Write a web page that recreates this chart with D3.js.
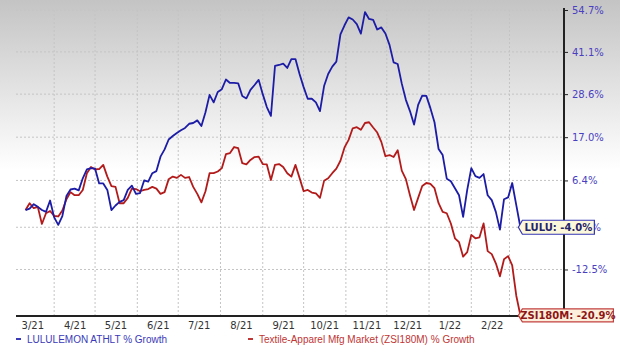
<!DOCTYPE html>
<html>
<head>
<meta charset="utf-8">
<script src="https://cdn.jsdelivr.net/npm/d3@7"></script>
<style>
  html, body { margin: 0; padding: 0; background: #fff; }
  svg { display: block; }
</style>
</head>
<body>
<svg id="chart" width="620" height="354"></svg>
<script>
// values, % growth since start, sampled every 3 days from Mar 11 2021
var startDate = new Date(2021, 2, 11)
var stepDays = 3

var luluGrowth = [
  -0.3, 0.0, 1.0, 0.4, -0.3, -0.7, 1.8, -1.9, -3.5, -1.6,
  2.8, 4.3, 4.5, 4.1, 6.9, 9.0, 9.3, 9.2, 5.7, 5.7,
  4.2, -0.3, 0.7, 1.5, 1.9, 4.2, 5.2, 3.3, 3.5, 6.4,
  6.1, 8.1, 8.6, 12.1, 13.9, 16.4, 17.3, 18.1, 18.8, 19.4,
  20.5, 20.7, 21.4, 19.9, 23.6, 28.4, 26.3, 29.2, 30.0, 32.8,
  31.8, 31.8, 31.7, 28.1, 27.4, 29.8, 31.2, 32.7, 28.6, 25.0,
  22.6, 36.8, 37.1, 37.5, 36.2, 38.9, 38.9, 34.4, 30.6, 27.3,
  27.3, 26.3, 23.9, 30.9, 34.4, 36.6, 38.1, 46.6, 49.6, 52.2,
  51.5, 50.0, 46.9, 54.0, 51.7, 51.4, 48.2, 48.9, 46.9, 43.3,
  37.9, 37.4, 31.6, 27.0, 23.9, 20.3, 25.6, 28.2, 28.1, 24.7,
  20.9, 14.0, 12.5, 6.8, 6.2, 4.6, 3.0, -1.8, 4.2, 9.3,
  7.4, 7.0, 7.9, 3.0, 1.9, -0.7, -4.5, 2.1, 2.5, 5.8,
  0.8, -4.0
]

var zsiGrowth = [
  -0.3, 1.2, 0.1, 0.4, -3.3, -1.0, -0.5, -1.6, -1.7, -0.4,
  2.1, 3.7, 3.0, 3.0, 4.2, 8.1, 9.6, 9.0, 9.1, 10.1,
  7.3, 5.1, 4.9, 1.2, 1.2, 2.4, 4.5, 4.4, 3.9, 4.2,
  4.4, 4.9, 4.5, 3.3, 3.7, 6.7, 7.3, 7.0, 7.7, 7.0,
  7.2, 4.9, 3.3, 1.4, 3.9, 8.1, 8.1, 8.5, 9.3, 12.7,
  13.0, 14.5, 14.2, 10.5, 10.2, 11.3, 12.0, 12.1, 10.3, 10.2,
  6.5, 10.1, 10.3, 9.6, 8.1, 7.3, 10.1, 7.0, 3.9, 4.2,
  3.6, 3.4, 2.4, 6.3, 6.9, 8.1, 9.2, 11.1, 14.4, 16.3,
  19.3, 19.6, 18.9, 20.7, 20.9, 19.5, 18.2, 15.8, 12.2, 12.5,
  12.0, 13.7, 8.7, 6.7, 3.0, -0.3, 2.4, 5.1, 5.8, 5.6,
  4.6, 1.2, -0.7, -1.0, -3.2, -6.3, -7.1, -10.0, -9.1, -5.6,
  -6.3, -6.1, -3.2, -8.9, -9.5, -11.3, -13.8, -10.5, -9.9, -11.7,
  -17.4, -20.9
]

var yTicks = [54.7, 41.1, 28.6, 17.0, 6.4, -4.0, -12.5]
var monthLabels = ["3/21", "4/21", "5/21", "6/21", "7/21", "8/21", "9/21",
                   "10/21", "11/21", "12/21", "1/22", "2/22"]
var seriesNames = ["LULULEMON ATHLT % Growth", "Textile-Apparel Mfg Market (ZSI180M) % Growth"]
var tagNames = ["LULU", "ZSI180M"]

var svg = d3.select("#chart")

// background fade
var defs = svg.append("defs")
var grad = defs.append("linearGradient")
  .attr("id", "bg").attr("x1", 0).attr("y1", 0).attr("x2", 0).attr("y2", 1)
grad.append("stop").attr("offset", "0%").attr("stop-color", "#c4c4c4")
grad.append("stop").attr("offset", "48%").attr("stop-color", "#ffffff")
grad.append("stop").attr("offset", "100%").attr("stop-color", "#ffffff")
svg.append("rect").attr("width", 620).attr("height", 354).attr("fill", "url(#bg)")

var plotLeft = 16, plotRight = 564, plotTop = 10, plotBottom = 316

var x = d3.scaleTime()
  .domain([new Date(2021, 2, 4), new Date(2022, 3, 10)])
  .range([plotLeft, plotRight])

var y = d3.scaleLog()
  .domain([0.79, 1.547])
  .range([plotBottom, plotTop])

function yv(g) { return y(1 + g / 100) }

var dates = luluGrowth.map((d, i) => d3.timeDay.offset(startDate, i * stepDays))

// grid
var monthStarts = d3.timeMonth.range(new Date(2021, 3, 1), new Date(2022, 2, 2))
svg.append("g").selectAll("line")
  .data(monthStarts)
  .enter().append("line")
  .attr("x1", d => x(d)).attr("x2", d => x(d))
  .attr("y1", plotTop).attr("y2", plotBottom)
  .attr("stroke", "#c4c4c4").attr("stroke-dasharray", "2,2")

svg.append("g").selectAll("line")
  .data(yTicks)
  .enter().append("line")
  .attr("x1", plotLeft).attr("x2", plotRight)
  .attr("y1", d => yv(d)).attr("y2", d => yv(d))
  .attr("stroke", "#c4c4c4").attr("stroke-dasharray", "2,2")

// right axis
var yAxis = d3.axisRight(y)
  .tickValues(yTicks.map(d => 1 + d / 100))
  .tickFormat((d, i) => yTicks[i].toFixed(1) + "%")
  .tickSize(4)
  .tickPadding(4)
var ya = svg.append("g")
  .attr("transform", `translate(${plotRight},0)`)
  .call(yAxis)
ya.select(".domain").remove()
ya.selectAll("line").attr("stroke", "#222")
ya.selectAll("text")
  .attr("fill", "#4a3fc0")
  .style("font-family", "DejaVu Sans")
  .style("font-size", "10px")
svg.append("line")
  .attr("x1", plotRight).attr("x2", plotRight)
  .attr("y1", plotTop - 2).attr("y2", plotBottom)
  .attr("stroke", "#222").attr("stroke-width", 2)

// bottom axis with labels at mid-month
var midMonths = monthLabels.map((d, i) => new Date(2021, 2 + i, 16))
var xAxis = d3.axisBottom(x)
  .tickValues(midMonths)
  .tickFormat((d, i) => monthLabels[i])
  .tickSize(0)
  .tickPadding(6)
var xa = svg.append("g")
  .attr("transform", `translate(0,${plotBottom})`)
  .call(xAxis)
xa.select(".domain").remove()
xa.selectAll("text")
  .attr("fill", "#333")
  .style("font-family", "DejaVu Sans")
  .style("font-size", "10px")
svg.append("line")
  .attr("x1", plotLeft).attr("x2", plotRight)
  .attr("y1", plotBottom).attr("y2", plotBottom)
  .attr("stroke", "#222").attr("stroke-width", 2)

// lines
var line = d3.line()
  .x((d, i) => x(dates[i]))
  .y(d => yv(d))

var series = [
  { vals: zsiGrowth, color: "#b31b1b" },
  { vals: luluGrowth, color: "#1c1ca6" }
]
series.forEach(s => {
  svg.append("path")
    .datum(s.vals)
    .attr("d", line)
    .attr("fill", "none")
    .attr("stroke", s.color)
    .attr("stroke-width", 1.8)
    .attr("stroke-linejoin", "round")
})

// end tags
var tags = [
  { name: tagNames[0], v: luluGrowth[luluGrowth.length - 1], stroke: "#3535b5", fill: "#fcf8dc", text: "#24246a", w: 76, h: 14 },
  { name: tagNames[1], v: zsiGrowth[zsiGrowth.length - 1], stroke: "#c24040", fill: "#fcf0dc", text: "#8e1515", w: 95, h: 13 }
]
tags.forEach(t => {
  var tx = x(dates[dates.length - 1]) - 2
  var ty = yv(t.v)
  var g = svg.append("g").attr("transform", `translate(${tx},${ty})`)
  var h2 = t.h / 2
  g.append("path")
    .attr("d", `M0,0 L4,${-h2} L${t.w},${-h2} L${t.w},${h2} L4,${h2} Z`)
    .attr("fill", t.fill)
    .attr("stroke", t.stroke)
    .attr("stroke-width", 1.2)
  g.append("text")
    .attr("x", (t.w + 4) / 2)
    .attr("y", 0)
    .attr("dy", "0.36em")
    .attr("text-anchor", "middle")
    .attr("fill", t.text)
    .style("font-family", "DejaVu Sans")
    .style("font-size", "10px")
    .style("font-weight", "bold")
    .text(t.name + ": " + t.v.toFixed(1) + "%")
})

// legend
var legend = [
  { x: 16, color: "#3a3ab8", label: seriesNames[0] },
  { x: 248, color: "#c03535", label: seriesNames[1] }
]
legend.forEach(l => {
  svg.append("rect")
    .attr("x", l.x).attr("y", 338)
    .attr("width", 5).attr("height", 2)
    .attr("fill", l.color)
  svg.append("text")
    .attr("x", l.x + 11).attr("y", 339)
    .attr("dy", "0.35em")
    .attr("fill", l.color)
    .style("font-family", "Liberation Sans, Arial, sans-serif")
    .style("font-size", "10px")
    .text(l.label)
})
</script>
</body>
</html>
